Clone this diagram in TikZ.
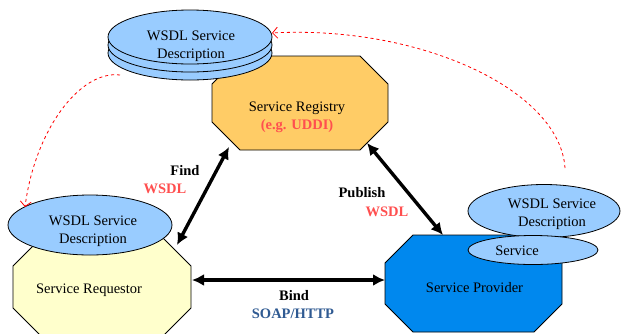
\documentclass[tikz,border=0pt]{standalone}
\usepackage{fontspec}
\setmainfont{Liberation Serif}
\usetikzlibrary{shapes.geometric, arrows.meta, calc}
\definecolor{wsdlblue}{HTML}{99CCFF}
\definecolor{regfill}{HTML}{FFCC66}
\definecolor{reqfill}{HTML}{FFFFCC}
\definecolor{provfill}{HTML}{0088EE}
\definecolor{wsdlred}{HTML}{FF4F4F}
\definecolor{soapblue}{HTML}{2F5A92}

\begin{document}
\begin{tikzpicture}[x=1pt,y=-1pt,font=\fontsize{14.5}{18}\selectfont,
  box/.style={shape=rectangle,inner sep=0pt,outer sep=0pt},
  disk/.style={draw,line width=0.8pt,shape=ellipse,fill=wsdlblue,inner sep=0pt},
  txt/.style={align=center,inner sep=0pt},
  lab/.style={align=center,inner sep=0pt,font=\fontsize{14.5}{18}\selectfont\bfseries},
  link/.style={line width=3.4pt,{Latex[length=12pt,width=12pt]}-{Latex[length=12pt,width=12pt]}},
  refer/.style={red,dashed,line width=0.8pt,-{Straight Barb[length=5pt,width=11pt]}}]
  \useasboundingbox (0,0) rectangle (621,333);
  % the three parties, cut at the corners
  \node[box,minimum width=176pt,minimum height=94pt] (registry) at (300,103) {};
  \node[box,minimum width=178pt,minimum height=98pt] (requestor) at (102,287) {};
  \node[box,minimum width=177pt,minimum height=97pt] (provider) at (473.5,283.5) {};
  \foreach \n/\c in {registry/regfill,requestor/reqfill,provider/provfill}
    \draw[line width=0.8pt,fill=\c] ($(\n.north west)+(28,0)$) -- ($(\n.north east)+(-28,0)$)
      -- ($(\n.north east)+(0,28)$) -- ($(\n.south east)+(0,-28)$) -- ($(\n.south east)+(-28,0)$)
      -- ($(\n.south west)+(28,0)$) -- ($(\n.south west)+(0,-28)$) -- ($(\n.north west)+(0,28)$) -- cycle;
  \node[txt] (regtxt) at ($(registry.center)+(-3,14)$) {Service Registry\\\textcolor{wsdlred}{\bfseries(e.g. UDDI)}};
  \node[txt] (reqtxt) at ($(requestor.center)+(-13,3)$) {Service Requestor};
  \node[txt] (provtxt) at ($(provider.center)+(1,4)$) {Service Provider};
  % descriptions
  \foreach \dy in {16,8,0}
    \node[disk,minimum width=164pt,minimum height=54pt] (disk\dy) at (190,37+\dy) {};
  \node[txt] (disktxt) at (191,46) {WSDL Service\\Description};
  \node[disk,minimum width=164pt,minimum height=60pt] (reqwsdl) at (90,225) {};
  \node[txt] (reqwsdltxt) at ($(reqwsdl.center)+(3,6)$) {WSDL Service\\Description};
  \node[disk,minimum width=152pt,minimum height=53pt] (provwsdl) at (544,211) {};
  \node[txt] (provwsdltxt) at ($(provwsdl.center)+(8,3)$) {WSDL Service\\Description};
  \node[disk,minimum width=130pt,minimum height=29pt] (service) at (533,250) {};
  \node[txt] (servicetxt) at ($(service.center)+(-16,1)$) {Service};
  % operations
  \draw[link] ($(requestor.center)+(75,-42)$) -- ($(registry.center)+(-71,44)$);
  \draw[link] ($(registry.center)+(67,40)$) -- ($(provider.center)+(-30.5,-48.5)$);
  \draw[link] ($(requestor.center)+(90,-7)$) -- ($(provider.center)+(-88.5,-3.5)$);
  \node[lab] (find) at (185,171) {Find};
  \node[lab,text=wsdlred] (findwsdl) at (165,189) {WSDL};
  \node[lab] (publish) at (362,193) {Publish};
  \node[lab,text=wsdlred] (pubwsdl) at (387,212) {WSDL};
  \node[lab] (bind) at (294,296) {Bind};
  \node[lab,text=soapblue] (soap) at (293,314) {SOAP/HTTP};
  % references to the description
  \draw[refer] ($(disk16.center)+(-70,22)$) .. controls (80,70) and (35,130) .. ($(reqwsdl.center)+(-65,-18)$);
  \draw[refer] ($(provwsdl.center)+(21,-43)$) .. controls (560,90) and (420,25) .. ($(disk0.center)+(82,-4)$);
\end{tikzpicture}
\end{document}
